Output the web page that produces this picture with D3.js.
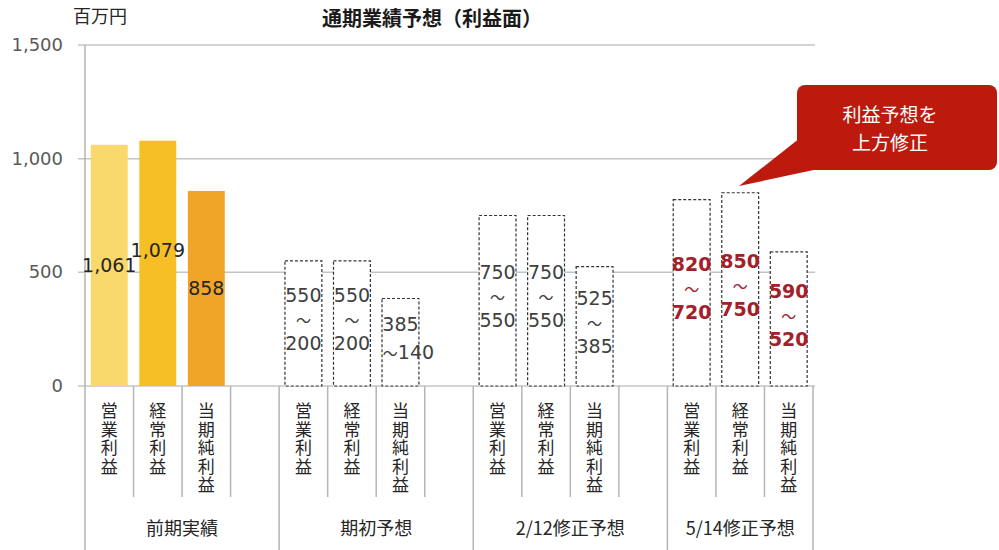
<!DOCTYPE html>
<html><head><meta charset="utf-8">
<script src="https://cdn.jsdelivr.net/npm/d3@7"></script>
<style>
body{margin:0;background:#fff;}
svg{display:block;}
.vt{writing-mode:vertical-rl;text-orientation:upright;}
</style></head>
<body>
<svg id="c" width="999" height="550"></svg>
<script>
// ---- data ----
const groups = ["前期実績", "期初予想", "2/12修正予想", "5/14修正予想"];
const items = ["営業利益", "経常利益", "当期純利益"];
const actual = [1061, 1079, 858];
const actualLabels = ["1,061", "1,079", "858"];
const forecastHigh = [[550, 550, 385], [750, 750, 525], [820, 850, 590]];
const forecastLow = [[200, 200, 140], [550, 550, 385], [720, 750, 520]];
const forecastLabels = [
  ["550\n～\n200", "550\n～\n200", "385\n～140"],
  ["750\n～\n550", "750\n～\n550", "525\n～\n385"],
  ["820\n～\n720", "850\n～\n750", "590\n～\n520"]
];
const yTicks = [0, 500, 1000, 1500];
const title = "通期業績予想（利益面）";
const unit = "百万円";
const callout = ["利益予想を", "上方修正"];

// ---- styles ----
const barColors = ["#f9d86c", "#f6bf26", "#f0a428"];
const numFont = "'DejaVu Sans', Verdana, sans-serif";
const jpFont = "'Noto Sans CJK JP', 'Noto Sans', sans-serif";

const svg = d3.select("#c");

// slots: 3 bars + spacer per group (no spacer after last group)
const slots = [];
groups.forEach((g, gi) => {
  items.forEach((it, ii) => slots.push({g: gi, i: ii, key: g + "|" + it}));
  if (gi < groups.length - 1) slots.push({g: gi, i: -1, key: g + "|_"});
});
const x = d3.scaleBand().domain(slots.map(d => d.key)).range([85, 813]).padding(0);
const y = d3.scaleLinear().domain([0, 1500]).range([386, 45]);
const bw = x.bandwidth();
const barW = bw * 0.76;

// gridlines
svg.append("g").selectAll("line").data(yTicks).join("line")
  .attr("x1", 78).attr("x2", 815)
  .attr("y1", d => y(d)).attr("y2", d => y(d))
  .attr("stroke", "#c4c4c4").attr("stroke-width", 1.5);

// y axis labels
const yAxis = d3.axisLeft(y).tickValues(yTicks).tickFormat(d3.format(",")).tickSize(0).tickPadding(22);
const ya = svg.append("g").attr("transform", "translate(85,0)").call(yAxis);
ya.select(".domain").remove();
ya.selectAll("text").attr("font-family", numFont).attr("font-size", 18).attr("fill", "#595959").attr("dy", "0.3em");

// y axis line and category separators
const boundaries = slots.map((d, k) => ({x: x(d.key), long: k === 0 || (k > 0 && slots[k - 1].g !== d.g)}));
boundaries.push({x: x.range()[1], long: true});
svg.append("g").selectAll("line").data(boundaries).join("line")
  .attr("x1", d => d.x).attr("x2", d => d.x)
  .attr("y1", 386).attr("y2", d => d.long ? 550 : 497)
  .attr("stroke", "#b5b5b5").attr("stroke-width", 1.5);
svg.append("line").attr("x1", 85).attr("x2", 85).attr("y1", 45).attr("y2", 386)
  .attr("stroke", "#b5b5b5").attr("stroke-width", 1.5);

// actual bars
const actSlots = slots.filter(d => d.g === 0 && d.i >= 0);
svg.append("g").selectAll("rect").data(actSlots).join("rect")
  .attr("x", d => x(d.key) + (bw - barW) / 2)
  .attr("width", barW)
  .attr("y", d => y(actual[d.i]))
  .attr("height", d => y(0) - y(actual[d.i]))
  .attr("fill", d => barColors[d.i]);
svg.append("g").selectAll("text").data(actSlots).join("text")
  .attr("x", d => x(d.key) + bw / 2)
  .attr("y", d => (y(0) + y(actual[d.i])) / 2 + (d.i === 1 ? -13 : 0))
  .attr("dy", "0.35em")
  .attr("text-anchor", "middle")
  .attr("font-family", numFont).attr("font-size", 19).attr("fill", "#262626")
  .text(d => actualLabels[d.i]);

// forecast range boxes
const fSlots = slots.filter(d => d.g > 0 && d.i >= 0);
svg.append("g").selectAll("rect").data(fSlots).join("rect")
  .attr("x", d => x(d.key) + (bw - barW) / 2)
  .attr("width", barW)
  .attr("y", d => y(forecastHigh[d.g - 1][d.i]))
  .attr("height", d => y(0) - y(forecastHigh[d.g - 1][d.i]))
  .attr("fill", "#fff").attr("stroke", "#333").attr("stroke-width", 1.2)
  .attr("stroke-dasharray", "3,2");

const lg = svg.append("g");
fSlots.forEach(d => {
  const hi = forecastHigh[d.g - 1][d.i];
  const lines = forecastLabels[d.g - 1][d.i].split("\n");
  const cx = x(d.key) + bw / 2;
  const cy = (y(0) + y(hi)) / 2 - 4;
  const red = d.g === 3;
  const n = lines.length;
  lines.forEach((ln, k) => {
    const t = lg.append("text")
      .attr("x", cx + (n === 2 && k === 1 ? 8 : 0))
      .attr("y", cy + (k - (n - 1) / 2) * (n === 2 ? 28 : 24))
      .attr("dy", "0.35em")
      .attr("text-anchor", "middle")
      .attr("font-size", 19)
      .attr("font-weight", red ? "bold" : "normal")
      .attr("fill", red ? "#a3202a" : "#404040");
    const parts = ln.split(/(～)/).filter(s => s.length);
    parts.forEach(p => {
      t.append("tspan")
        .attr("font-family", p === "～" ? jpFont : numFont)
        .attr("font-size", p === "～" ? 15 : 19)
        .attr("font-weight", p === "～" ? "normal" : null)
        .text(p);
    });
  });
});

// vertical category labels
svg.append("g").selectAll("text").data(slots.filter(d => d.i >= 0)).join("text")
  .attr("class", "vt")
  .attr("x", d => x(d.key) + bw / 2)
  .attr("y", 402)
  .attr("font-family", jpFont).attr("font-size", 17).attr("letter-spacing", 1.6)
  .attr("fill", "#262626")
  .text(d => items[d.i]);

// group labels
svg.append("g").selectAll("text").data(groups).join("text")
  .attr("x", (g, gi) => {
    const s = slots.filter(d => d.g === gi);
    const x0 = x(s[0].key);
    const x1 = gi === groups.length - 1 ? x.range()[1] : x(s[s.length - 1].key) + bw;
    return (x0 + x1) / 2;
  })
  .attr("y", 529).attr("dy", "0.35em").attr("text-anchor", "middle")
  .attr("font-family", jpFont).attr("font-size", 18).attr("fill", "#262626")
  .text(d => d);

// title & unit
svg.append("text").attr("x", 432).attr("y", 19).attr("dy", "0.35em").attr("text-anchor", "middle")
  .attr("font-family", jpFont).attr("font-size", 20).attr("font-weight", "bold").attr("fill", "#1a1a1a")
  .text(title);
svg.append("text").attr("x", 73).attr("y", 17).attr("dy", "0.35em")
  .attr("font-family", jpFont).attr("font-size", 18).attr("fill", "#262626").text(unit);

// callout
const co = svg.append("g");
co.append("path").attr("d", "M800,138 L823,168 L739,186 Z").attr("fill", "#bd1a0e");
co.append("rect").attr("x", 797).attr("y", 85).attr("width", 200).attr("height", 85).attr("rx", 8)
  .attr("fill", "#bd1a0e");
co.selectAll("text.c").data(callout).join("text")
  .attr("x", 890).attr("y", (d, k) => 115 + k * 28).attr("dy", "0.35em").attr("text-anchor", "middle")
  .attr("font-family", jpFont).attr("font-size", 19).attr("fill", "#fff").text(d => d);
</script>
</body></html>
